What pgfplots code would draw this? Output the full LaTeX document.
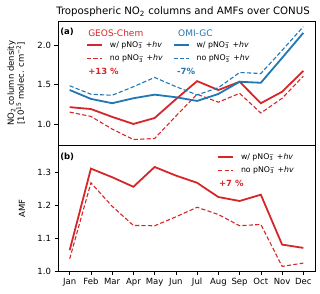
\documentclass[border=0pt]{standalone}
\usepackage{pgfplots}
\pgfplotsset{compat=1.18}
\usepackage{fontspec}
\setmainfont{DejaVu Sans}
\definecolor{tred}{HTML}{D62728}
\definecolor{tblue}{HTML}{1F77B4}
\newcommand{\pno}{pNO\rlap{\textsubscript{3}}\textsuperscript{−} +\textit{hv}}
\pgfplotsset{
  common/.style={
    scale only axis, width=257pt,
    xmin=-0.55, xmax=11.55,
    axis line style={line width=0.8pt},
    tick align=outside, ytick pos=left, xtick pos=bottom,
    major tick length=3.5pt,
    every tick/.style={black, line width=0.6pt},
    tick label style={font=\fontsize{8.5}{10}\selectfont},
    /pgf/number format/assume math mode=true,
    yticklabel style={/pgf/number format/fixed, /pgf/number format/fixed zerofill, /pgf/number format/precision=1},
    label style={font=\fontsize{8.5}{10}\selectfont},
    legend cell align=left,
    legend image code/.code={\draw[##1] (0pt,0pt) -- (15pt,0pt);},
  },
  sol/.style={line width=1.8pt},
  das/.style={line width=1.1pt, dash pattern=on 4.2pt off 2.2pt},
}
\begin{document}
\begin{tikzpicture}
\node at (183pt,281pt) {\fontsize{10.2}{12}\selectfont Tropospheric NO\textsubscript{2} columns and AMFs over CONUS};
% panel a
\begin{axis}[common, at={(58pt,147.5pt)}, anchor=south west, height=124.5pt,
  ymin=0.726, ymax=2.31, ytick={1.0,1.5,2.0}, xtick=\empty,
  ylabel={NO\textsubscript{2} column density\\{}[10\textsuperscript{15} molec. cm\textsuperscript{−2}]},
  ylabel style={align=center, at={(axis description cs:-0.163,0.5)}, anchor=center},
  legend columns=2,
  legend style={draw=none, fill=none, at={(rel axis cs:0.097,0.868)}, anchor=north west,
    font=\fontsize{7.8}{9}\selectfont, row sep=2pt,
    /tikz/every odd column/.append style={column sep=5pt},
    /tikz/every even column/.append style={column sep=8pt}},
]
\addlegendimage{tred, sol}\addlegendentry{w/ \pno}
\addlegendimage{tblue, sol}\addlegendentry{w/ \pno}
\addlegendimage{tred, das}\addlegendentry{no \pno}
\addlegendimage{tblue, das}\addlegendentry{no \pno}
\addplot[tred, sol, forget plot] coordinates {(0,1.214) (1,1.190) (2,1.090) (3,1.000) (4,1.076) (5,1.315) (6,1.545) (7,1.432) (8,1.537) (9,1.264) (10,1.410) (11,1.675)};
\addplot[tred, das, forget plot] coordinates {(0,1.151) (1,1.096) (2,0.935) (3,0.802) (4,0.815) (5,1.100) (6,1.378) (7,1.277) (8,1.390) (9,1.139) (10,1.327) (11,1.608)};
\addplot[tblue, sol, forget plot] coordinates {(0,1.432) (1,1.319) (2,1.264) (3,1.327) (4,1.373) (5,1.340) (6,1.293) (7,1.382) (8,1.537) (9,1.524) (10,1.840) (11,2.159)};
\addplot[tblue, das, forget plot] coordinates {(0,1.486) (1,1.378) (2,1.365) (3,1.474) (4,1.592) (5,1.475) (6,1.370) (7,1.461) (8,1.655) (9,1.642) (10,1.936) (11,2.238)};
\node[anchor=west, font=\bfseries\fontsize{8.5}{10}\selectfont, inner sep=0pt] at (rel axis cs:0.008,0.912) {(a)};
\node[anchor=west, tred, font=\fontsize{9}{10}\selectfont, inner sep=0pt] at (rel axis cs:0.117,0.904) {GEOS-Chem};
\node[anchor=west, tblue, font=\fontsize{9}{10}\selectfont, inner sep=0pt] at (rel axis cs:0.467,0.904) {OMI-GC};
\node[anchor=west, tred, font=\bfseries\fontsize{8.5}{10}\selectfont, inner sep=0pt] at (rel axis cs:0.117,0.598) {+13 \%};
\node[anchor=west, tblue, font=\bfseries\fontsize{8.5}{10}\selectfont, inner sep=0pt] at (rel axis cs:0.463,0.598) {-7\%};
\end{axis}
% panel b
\begin{axis}[common, at={(58pt,22pt)}, anchor=south west, height=125.5pt,
  ymin=1.0, ymax=1.38, ytick={1.0,1.1,1.2,1.3},
  xtick={0,...,11}, xticklabels={Jan,Feb,Mar,Apr,May,Jun,Jul,Aug,Sep,Oct,Nov,Dec},
  ylabel={AMF},
  ylabel style={at={(axis description cs:-0.14,0.5)}, anchor=center},
  legend style={draw=none, fill=none, at={(rel axis cs:0.607,0.973)}, anchor=north west,
    font=\fontsize{7.8}{9}\selectfont, row sep=2pt,
    /tikz/every odd column/.append style={column sep=5pt}},
]
\addlegendimage{tred, sol}\addlegendentry{w/ \pno}
\addlegendimage{tred, das}\addlegendentry{no \pno}
\addplot[tred, sol, forget plot] coordinates {(0,1.063) (1,1.310) (2,1.284) (3,1.255) (4,1.315) (5,1.289) (6,1.267) (7,1.224) (8,1.212) (9,1.231) (10,1.080) (11,1.070)};
\addplot[tred, das, forget plot] coordinates {(0,1.037) (1,1.267) (2,1.196) (3,1.138) (4,1.137) (5,1.164) (6,1.193) (7,1.171) (8,1.137) (9,1.141) (10,1.014) (11,1.024)};
\node[anchor=west, font=\bfseries\fontsize{8.5}{10}\selectfont, inner sep=0pt] at (rel axis cs:0.008,0.908) {(b)};
\node[anchor=west, tred, font=\bfseries\fontsize{8.5}{10}\selectfont, inner sep=0pt] at (rel axis cs:0.626,0.70) {+7 \%};
\end{axis}
\pgfresetboundingbox
\path[use as bounding box] (0pt,0pt) rectangle (320pt,293pt);
\end{tikzpicture}
\end{document}
